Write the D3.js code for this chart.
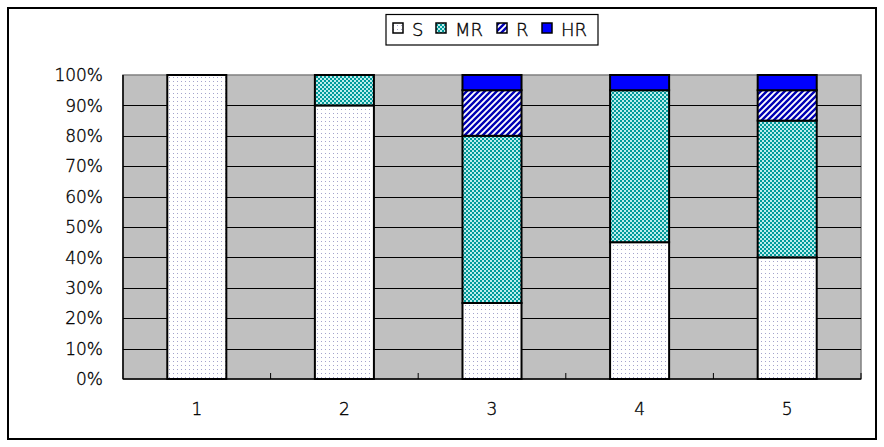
<!DOCTYPE html>
<html><head><meta charset="utf-8">
<script src="https://cdn.jsdelivr.net/npm/d3@7"></script>
<style>
html,body{margin:0;padding:0;background:#fff;}
svg text{font-family:"DejaVu Sans","Liberation Sans",Arial,sans-serif;font-weight:200;fill:#000;stroke:#000;stroke-width:0.35px;}
</style></head>
<body>
<svg id="chart" width="884" height="447"></svg>
<script>
const categories = ["1","2","3","4","5"];
const seriesNames = ["S","MR","R","HR"];
const S  = [100, 90, 25, 45, 40];
const MR = [0, 10, 55, 50, 45];
const R  = [0, 0, 15, 0, 10];
const HR = [0, 0, 5, 5, 5];
const yTicks = [0,10,20,30,40,50,60,70,80,90,100];
const yTickLabels = ["0%","10%","20%","30%","40%","50%","60%","70%","80%","90%","100%"];

const svg = d3.select("#chart");
const defs = svg.append("defs");

// patterns
const pS = defs.append("pattern").attr("id","patS").attr("patternUnits","userSpaceOnUse").attr("width",4).attr("height",4);
pS.append("rect").attr("width",4).attr("height",4).attr("fill","#ffffff");
pS.append("rect").attr("x",1).attr("y",1).attr("width",1).attr("height",1).attr("fill","#a4a4cc");

const pMR = defs.append("pattern").attr("id","patMR").attr("patternUnits","userSpaceOnUse").attr("width",4).attr("height",4);
pMR.append("rect").attr("width",4).attr("height",4).attr("fill","#bcecec");
pMR.append("rect").attr("x",0).attr("y",0).attr("width",2).attr("height",2).attr("fill","#009a9a");
pMR.append("rect").attr("x",2).attr("y",2).attr("width",2).attr("height",2).attr("fill","#009a9a");

const pR = defs.append("pattern").attr("id","patR").attr("patternUnits","userSpaceOnUse").attr("width",6).attr("height",6);
pR.append("rect").attr("width",6).attr("height",6).attr("fill","#ffffff");
pR.append("path").attr("d","M-1,7 L7,-1 M-1,1 L1,-1 M5,7 L7,5").attr("stroke","#0000b4").attr("stroke-width",2.4);

const fills = {S:"url(#patS)", MR:"url(#patMR)", R:"url(#patR)", HR:"#0000ff"};

// outer border
svg.append("rect").attr("x",8).attr("y",8).attr("width",868).attr("height",431)
  .attr("fill","#fff").attr("stroke","#000").attr("stroke-width",2);

const plot = {left:123, right:861, top:75, bottom:379};
const x = d3.scaleBand().domain(categories).range([plot.left, plot.right]).paddingInner(0.6).paddingOuter(0.3);
const y = d3.scaleLinear().domain([0,100]).range([plot.bottom, plot.top]);

// plot area
svg.append("rect").attr("x",plot.left).attr("y",plot.top).attr("width",plot.right-plot.left).attr("height",plot.bottom-plot.top)
  .attr("fill","#c0c0c0").attr("stroke","#808080").attr("stroke-width",1.5);

// gridlines
svg.append("g").selectAll("line").data(yTicks.filter(t=>t>0 && t<100)).join("line")
  .attr("x1",plot.left).attr("x2",plot.right)
  .attr("y1",d=>Math.round(y(d))+0.5).attr("y2",d=>Math.round(y(d))+0.5)
  .attr("stroke","#000").attr("stroke-width",1);

// stacked data
const rows = categories.map((c,i)=>({cat:c, S:S[i], MR:MR[i], R:R[i], HR:HR[i]}));
const stack = d3.stack().keys(seriesNames)(rows);

const g = svg.append("g");
stack.forEach(layer=>{
  g.append("g").selectAll("rect").data(layer.filter(d=>d[1]-d[0]>0)).join("rect")
    .attr("x",d=>x(d.data.cat))
    .attr("width",x.bandwidth())
    .attr("y",d=>y(d[1]))
    .attr("height",d=>y(d[0])-y(d[1]))
    .attr("fill",fills[layer.key])
    .attr("stroke","#000").attr("stroke-width",2);
});

// axes lines
svg.append("line").attr("x1",plot.left).attr("x2",plot.right).attr("y1",plot.bottom).attr("y2",plot.bottom).attr("stroke","#000").attr("stroke-width",1.5);
svg.append("line").attr("x1",plot.left).attr("x2",plot.left).attr("y1",plot.top).attr("y2",plot.bottom).attr("stroke","#000").attr("stroke-width",1.5);

// category boundary ticks
const step = x.step();
const bounds = d3.range(1, categories.length+1).map(i=>plot.left + i*step);
svg.append("g").selectAll("line").data(bounds).join("line")
  .attr("x1",d=>d).attr("x2",d=>d).attr("y1",plot.bottom).attr("y2",plot.bottom-6)
  .attr("stroke","#000").attr("stroke-width",1);

// y labels
svg.append("g").selectAll("text").data(yTicks).join("text")
  .attr("x",103).attr("y",d=>y(d)).attr("dy","0.36em")
  .attr("text-anchor","end").attr("font-size",17)
  .text((d,i)=>yTickLabels[i]);

// x labels
svg.append("g").selectAll("text").data(categories).join("text")
  .attr("x",d=>x(d)+x.bandwidth()/2).attr("y",409).attr("dy","0.36em")
  .attr("text-anchor","middle").attr("font-size",17)
  .text(d=>d);

// legend
const lg = svg.append("g");
lg.append("rect").attr("x",386).attr("y",14.5).attr("width",212).attr("height",30.5)
  .attr("fill","#fff").attr("stroke","#000").attr("stroke-width",1.2);
const legendX = [393, 436, 497, 542];
seriesNames.forEach((k,i)=>{
  lg.append("rect").attr("x",legendX[i]).attr("y",23).attr("width",10).attr("height",10)
    .attr("fill",fills[k]).attr("stroke","#000").attr("stroke-width",1.5);
  lg.append("text").attr("x",legendX[i]+19).attr("y",30).attr("dy","0.36em")
    .attr("font-size",18).text(k);
});
</script>
</body></html>
